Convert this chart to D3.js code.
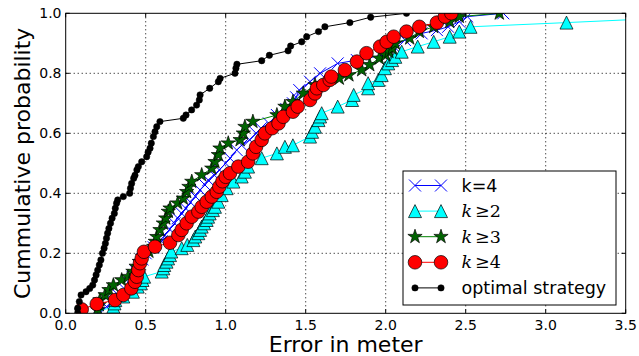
<!DOCTYPE html>
<html>
<head>
<meta charset="utf-8">
<title>CDF of error</title>
<script src="https://d3js.org/d3.v7.min.js"></script>
<style>
  body { margin: 0; background: #fff; }
  text { font-family: "DejaVu Sans", sans-serif; fill: #000; }
  .grid line { stroke: #000; stroke-width: 1; stroke-dasharray: 1,3; }
</style>
</head>
<body>
<svg id="chart" width="639" height="356"></svg>
<script>
// tick values
var xTicks = [0.0, 0.5, 1.0, 1.5, 2.0, 2.5, 3.0, 3.5];
var yTicks = [0.0, 0.2, 0.4, 0.6, 0.8, 1.0];

// k=4  (x = error, y = cumulative probability)
var k4 = [[0.2,0.0],[0.256,0.022],[0.3,0.04],[0.33,0.06],[0.37,0.08],[0.4,0.1],[0.42,0.12],[0.44,0.14],
  [0.46,0.16],[0.48,0.18],[0.5,0.2],[0.55,0.22],[0.6,0.24],[0.62,0.26],[0.65,0.28],[0.68,0.3],[0.7,0.317],
  [0.725,0.333],[0.75,0.35],[0.78,0.37],[0.81,0.39],[0.84,0.411],[0.87,0.428],[0.891,0.444],[0.93,0.46],
  [0.96,0.478],[1.0,0.5],[1.027,0.517],[1.069,0.544],[1.1,0.56],[1.15,0.578],[1.19,0.6],[1.22,0.617],
  [1.27,0.633],[1.32,0.661],[1.38,0.68],[1.42,0.7],[1.44,0.72],[1.46,0.744],[1.527,0.772],[1.59,0.8],
  [1.7,0.833],[1.82,0.844],[1.985,0.861],[2.05,0.89],[2.12,0.911],[2.225,0.933],[2.32,0.944],[2.39,0.955],
  [2.46,0.972],[2.51,0.989],[2.735,1.0]];

// k>=2
var kGe2 = [[0.2,0.006],[0.298,0.022],[0.305,0.033],[0.31,0.044],[0.36,0.056],[0.42,0.072],[0.45,0.089],
  [0.47,0.1],[0.48,0.111],[0.49,0.122],[0.6,0.139],[0.61,0.15],[0.616,0.161],[0.63,0.172],[0.64,0.183],
  [0.652,0.194],[0.66,0.206],[0.725,0.217],[0.76,0.228],[0.798,0.244],[0.81,0.256],[0.829,0.267],
  [0.84,0.278],[0.85,0.289],[0.865,0.3],[0.881,0.311],[0.89,0.322],[0.9,0.333],[0.92,0.344],[0.933,0.355],
  [0.954,0.372],[0.975,0.394],[1.006,0.417],[1.048,0.439],[1.1,0.456],[1.12,0.472],[1.14,0.489],
  [1.225,0.517],[1.32,0.533],[1.37,0.555],[1.42,0.56],[1.527,0.589],[1.54,0.605],[1.558,0.622],
  [1.58,0.644],[1.59,0.656],[1.6,0.667],[1.7,0.689],[1.79,0.711],[1.8,0.728],[1.89,0.75],[1.89,0.767],
  [1.954,0.778],[1.975,0.794],[1.995,0.817],[2.016,0.833],[2.04,0.844],[2.06,0.855],[2.1,0.872],
  [2.2,0.889],[2.3,0.905],[2.4,0.922],[2.46,0.939],[2.53,0.955],[3.13,0.969],[4.4,1.0]];

// k>=3
var kGe3 = [[0.2,0.011],[0.21,0.028],[0.214,0.044],[0.246,0.061],[0.27,0.078],[0.298,0.094],[0.35,0.111],
  [0.39,0.122],[0.42,0.139],[0.44,0.156],[0.46,0.172],[0.48,0.189],[0.52,0.206],[0.55,0.222],[0.56,0.239],
  [0.569,0.255],[0.589,0.278],[0.61,0.3],[0.625,0.317],[0.641,0.339],[0.652,0.35],[0.7,0.367],
  [0.735,0.383],[0.756,0.405],[0.77,0.422],[0.788,0.439],[0.85,0.461],[0.913,0.483],[0.933,0.505],
  [0.954,0.528],[0.964,0.55],[1.016,0.567],[1.09,0.578],[1.11,0.6],[1.12,0.622],[1.17,0.639],
  [1.32,0.661],[1.37,0.689],[1.42,0.705],[1.485,0.733],[1.558,0.761],[1.71,0.783],[1.77,0.794],
  [1.85,0.811],[1.9,0.828],[1.96,0.85],[2.0,0.861],[2.02,0.872],[2.04,0.883],[2.06,0.9],[2.15,0.917],
  [2.21,0.939],[2.3,0.955],[2.4,0.972],[2.46,0.989],[2.71,1.0]];

// k>=4
var kGe4 = [[0.1,0.013],[0.194,0.031],[0.308,0.044],[0.36,0.061],[0.41,0.083],[0.433,0.105],[0.444,0.122],
  [0.454,0.144],[0.464,0.167],[0.475,0.183],[0.489,0.205],[0.558,0.222],[0.652,0.235],[0.704,0.261],
  [0.725,0.278],[0.756,0.3],[0.788,0.322],[0.829,0.339],[0.85,0.355],[0.881,0.372],[0.913,0.389],
  [0.944,0.405],[0.96,0.422],[0.98,0.44],[1.0,0.455],[1.027,0.467],[1.079,0.489],[1.14,0.505],
  [1.17,0.533],[1.19,0.555],[1.225,0.578],[1.245,0.6],[1.29,0.617],[1.33,0.633],[1.36,0.655],
  [1.42,0.672],[1.45,0.689],[1.527,0.711],[1.558,0.733],[1.57,0.75],[1.61,0.761],[1.65,0.778],
  [1.66,0.789],[1.745,0.811],[1.82,0.839],[1.88,0.867],[1.965,0.889],[2.006,0.905],[2.05,0.922],
  [2.13,0.939],[2.21,0.955],[2.32,0.969],[2.37,0.989],[2.41,1.0]];

// optimal strategy
var optimal = [[0.075,0.0],[0.075,0.017],[0.085,0.039],[0.096,0.061],[0.127,0.072],[0.15,0.083],
  [0.169,0.094],[0.18,0.111],[0.19,0.128],[0.2,0.144],[0.21,0.161],[0.22,0.178],[0.23,0.2],[0.24,0.217],
  [0.248,0.233],[0.255,0.25],[0.262,0.267],[0.27,0.283],[0.28,0.3],[0.29,0.317],[0.304,0.333],[0.31,0.35],
  [0.318,0.367],[0.325,0.378],[0.36,0.389],[0.4,0.4],[0.405,0.417],[0.412,0.433],[0.425,0.45],
  [0.433,0.46],[0.445,0.478],[0.454,0.489],[0.475,0.505],[0.506,0.522],[0.515,0.537],[0.527,0.55],
  [0.535,0.567],[0.548,0.589],[0.558,0.605],[0.569,0.622],[0.589,0.639],[0.735,0.65],[0.752,0.661],
  [0.787,0.678],[0.818,0.694],[0.835,0.711],[0.84,0.728],[0.9,0.75],[0.954,0.772],[0.965,0.783],
  [1.058,0.8],[1.064,0.817],[1.07,0.83],[1.225,0.842],[1.273,0.86],[1.39,0.875],[1.406,0.891],
  [1.475,0.905],[1.506,0.922],[1.58,0.939],[1.62,0.955],[1.776,0.969],[1.906,0.987],[2.13,1.0]];

var legendLabels = ["k=4", "k\u22652", "k\u22653", "k\u22654", "optimal strategy"];

var svg = d3.select("#chart");
var plotL = 65.7, plotR = 625.7, plotT = 13.3, plotB = 313.3;

var x = d3.scaleLinear().domain([0, 3.5]).range([plotL, plotR]);
var y = d3.scaleLinear().domain([0, 1]).range([plotB, plotT]);

svg.append("defs").append("clipPath").attr("id", "plotclip")
  .append("rect").attr("x", plotL).attr("y", plotT).attr("width", plotR - plotL).attr("height", plotB - plotT);

// grid
var grid = svg.append("g").attr("class", "grid");
grid.selectAll(".gx").data(xTicks.slice(1, -1)).enter().append("line")
  .attr("x1", d => x(d)).attr("x2", d => x(d)).attr("y1", plotT).attr("y2", plotB);
grid.selectAll(".gy").data(yTicks.slice(1, -1)).enter().append("line")
  .attr("y1", d => y(d)).attr("y2", d => y(d)).attr("x1", plotL).attr("x2", plotR);

// marker shapes
function star(r) {
  var pts = [];
  for (var i = 0; i < 10; i++) {
    var rr = i % 2 === 0 ? r : r * 0.381966;
    var a = -Math.PI / 2 + i * Math.PI / 5;
    pts.push([rr * Math.cos(a), rr * Math.sin(a)]);
  }
  return "M" + pts.map(p => p[0].toFixed(2) + "," + p[1].toFixed(2)).join("L") + "Z";
}
var shapes = {
  x: "M-6,-6L6,6M-6,6L6,-6",
  tri: "M0,-6.5L-6.5,6.5L6.5,6.5Z",
  star: star(7.5),
  circle: d3.symbol(d3.symbolCircle, Math.PI * 6.8 * 6.8)(),
  dot: d3.symbol(d3.symbolCircle, Math.PI * 3.2 * 3.2)()
};

var series = [
  { data: k4, color: "#0000ff", shape: "x", fill: "none", stroke: "#0000ff", sw: 1 },
  { data: kGe2, color: "#00ffff", shape: "tri", fill: "#00ffff", stroke: "#000", sw: 0.7 },
  { data: kGe3, color: "#008000", shape: "star", fill: "#006400", stroke: "#000", sw: 0.7 },
  { data: kGe4, color: "#ff0000", shape: "circle", fill: "#ff0000", stroke: "#000", sw: 0.7 },
  { data: optimal, color: "#000", shape: "dot", fill: "#000", stroke: "#000", sw: 0.5 }
];

var line = d3.line().x(d => x(d[0])).y(d => y(d[1]));
var plot = svg.append("g").attr("clip-path", "url(#plotclip)");

series.forEach(function (s) {
  var g = plot.append("g");
  g.append("path").attr("d", line(s.data)).attr("fill", "none")
    .attr("stroke", s.color).attr("stroke-width", 1);
  g.selectAll("path.m").data(s.data).enter().append("path").attr("class", "m")
    .attr("d", shapes[s.shape])
    .attr("transform", d => "translate(" + x(d[0]) + "," + y(d[1]) + ")")
    .attr("fill", s.fill).attr("stroke", s.stroke).attr("stroke-width", s.sw);
});

// frame
svg.append("rect").attr("x", plotL).attr("y", plotT).attr("width", plotR - plotL).attr("height", plotB - plotT)
  .attr("fill", "none").attr("stroke", "#000").attr("stroke-width", 1);

// ticks (inside, all four sides)
var tk = svg.append("g").attr("stroke", "#000").attr("stroke-width", 1);
xTicks.forEach(function (t) {
  tk.append("line").attr("x1", x(t)).attr("x2", x(t)).attr("y1", plotB).attr("y2", plotB - 4);
  tk.append("line").attr("x1", x(t)).attr("x2", x(t)).attr("y1", plotT).attr("y2", plotT + 4);
});
yTicks.forEach(function (t) {
  tk.append("line").attr("y1", y(t)).attr("y2", y(t)).attr("x1", plotL).attr("x2", plotL + 4);
  tk.append("line").attr("y1", y(t)).attr("y2", y(t)).attr("x1", plotR).attr("x2", plotR - 4);
});

// tick labels
svg.selectAll(".xl").data(xTicks).enter().append("text")
  .attr("x", d => x(d)).attr("y", 330).attr("text-anchor", "middle")
  .style("font-size", "14px").text(d => d.toFixed(1));
svg.selectAll(".yl").data(yTicks).enter().append("text")
  .attr("x", 61.5).attr("y", d => y(d) + 5).attr("text-anchor", "end")
  .style("font-size", "14px").text(d => d.toFixed(1));

// axis labels
svg.append("text").attr("x", (plotL + plotR) / 2).attr("y", 352).attr("text-anchor", "middle")
  .style("font-size", "22px").text("Error in meter");
svg.append("text").attr("transform", "translate(30," + ((plotT + plotB) / 2) + ") rotate(-90)")
  .attr("text-anchor", "middle").style("font-size", "22px").text("Cummulative probability");

// legend
var lg = svg.append("g");
lg.append("rect").attr("x", 403).attr("y", 171).attr("width", 213).attr("height", 134)
  .attr("fill", "#fff").attr("stroke", "#000").attr("stroke-width", 1);
series.forEach(function (s, i) {
  var ly = 185.5 + i * 25.6;
  lg.append("line").attr("x1", 415).attr("x2", 441).attr("y1", ly).attr("y2", ly)
    .attr("stroke", s.color).attr("stroke-width", 1);
  [415, 441].forEach(function (mx) {
    lg.append("path").attr("d", shapes[s.shape]).attr("transform", "translate(" + mx + "," + ly + ")")
      .attr("fill", s.fill).attr("stroke", s.stroke).attr("stroke-width", s.sw);
  });
  var t = lg.append("text").attr("x", 461.5).attr("y", ly + 6).style("font-size", "17.5px");
  if (i === 0 || i === 4) {
    t.text(legendLabels[i]);
  } else {
    t.style("font-family", "'DejaVu Serif', serif");
    t.append("tspan").style("font-style", "italic").text(legendLabels[i].charAt(0));
    t.append("tspan").attr("dx", 3).text(legendLabels[i].slice(1));
  }
});
</script>
</body>
</html>
